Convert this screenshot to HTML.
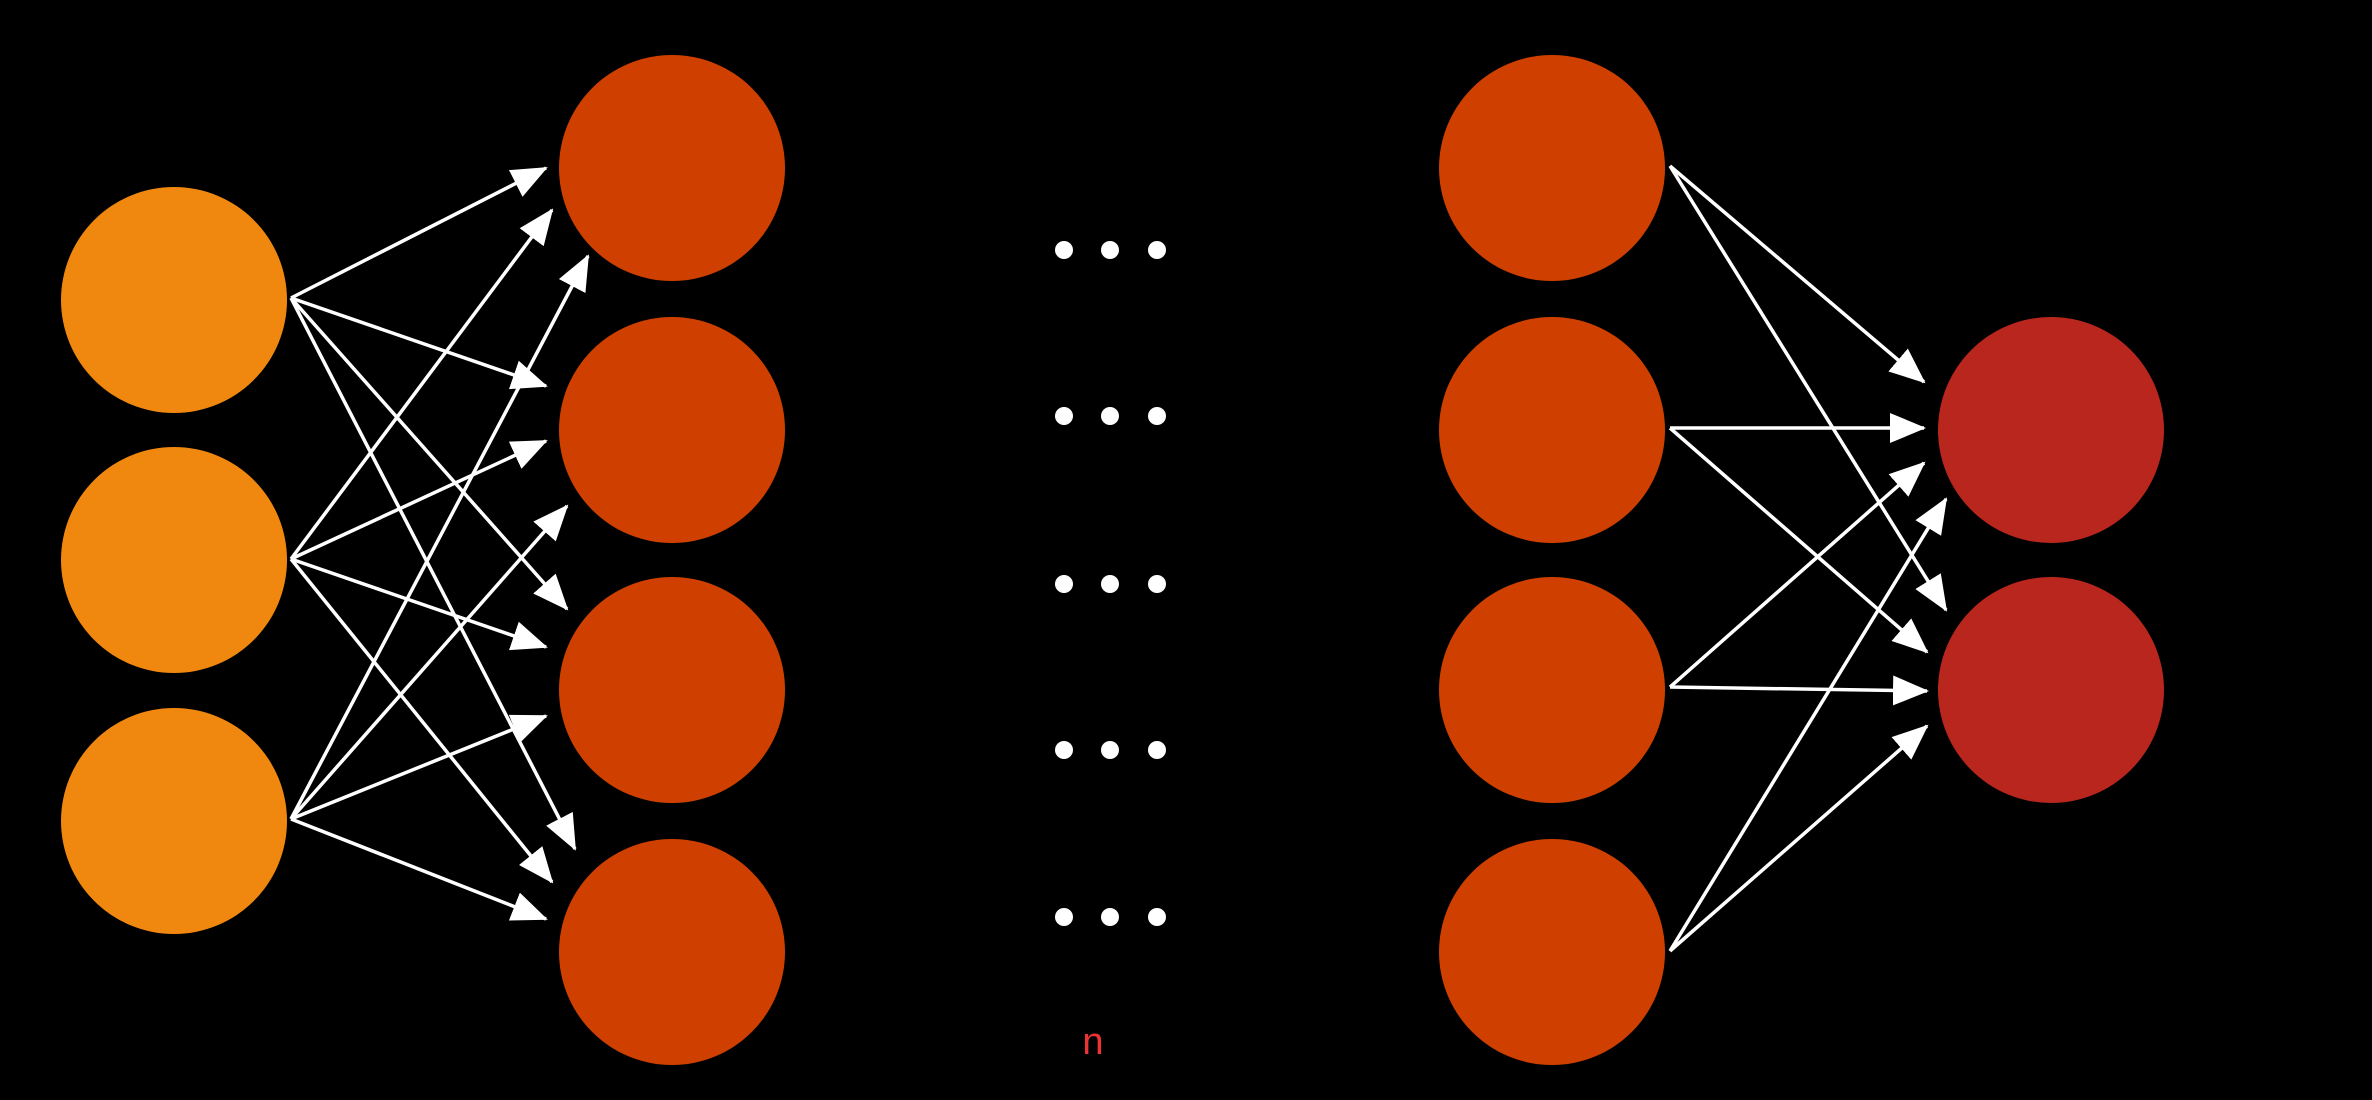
<!DOCTYPE html>
<html><head><style>html,body{margin:0;padding:0;background:#000;}svg{display:block;}</style></head>
<body>
<svg width="2372" height="1100" viewBox="0 0 2372 1100" xmlns="http://www.w3.org/2000/svg">
<defs>
<marker id="a" markerUnits="userSpaceOnUse" markerWidth="36" markerHeight="30" refX="34" refY="15" orient="auto">
<path d="M0,0 L36,15 L0,30 Z" fill="#fff"/>
</marker>
</defs>
<rect width="2372" height="1100" fill="#000"/>
<g fill="#f0880f">
<circle cx="174" cy="300" r="113"/><circle cx="174" cy="560" r="113"/><circle cx="174" cy="821" r="113"/>
</g>
<g fill="#cf4000">
<circle cx="672" cy="168" r="113"/><circle cx="672" cy="430" r="113"/><circle cx="672" cy="690" r="113"/><circle cx="672" cy="952" r="113"/>
<circle cx="1552" cy="168" r="113"/><circle cx="1552" cy="430" r="113"/><circle cx="1552" cy="690" r="113"/><circle cx="1552" cy="952" r="113"/>
</g>
<g fill="#b9261e">
<circle cx="2051" cy="430" r="113"/><circle cx="2051" cy="690" r="113"/>
</g>
<g stroke="#fff" stroke-width="3.5" marker-end="url(#a)">
<line x1="291" y1="298" x2="546" y2="168"/>
<line x1="291" y1="298" x2="546" y2="386"/>
<line x1="291" y1="298" x2="567" y2="609"/>
<line x1="291" y1="298" x2="575" y2="849"/>
<line x1="291" y1="559" x2="552" y2="210"/>
<line x1="291" y1="559" x2="546" y2="441"/>
<line x1="291" y1="559" x2="546" y2="647"/>
<line x1="291" y1="559" x2="552" y2="882"/>
<line x1="291" y1="819" x2="588" y2="256"/>
<line x1="291" y1="819" x2="567" y2="506"/>
<line x1="291" y1="819" x2="546" y2="716"/>
<line x1="291" y1="819" x2="546" y2="919"/>
<line x1="1670" y1="166" x2="1924" y2="382"/>
<line x1="1670" y1="166" x2="1946" y2="610"/>
<line x1="1670" y1="428" x2="1924" y2="428"/>
<line x1="1670" y1="428" x2="1927" y2="652"/>
<line x1="1670" y1="687" x2="1924" y2="463"/>
<line x1="1670" y1="687" x2="1927" y2="691"/>
<line x1="1670" y1="951" x2="1946" y2="499"/>
<line x1="1670" y1="951" x2="1927" y2="726"/>
</g>
<g fill="#fff">
<circle cx="1064" cy="250" r="9"/><circle cx="1110" cy="250" r="9"/><circle cx="1157" cy="250" r="9"/>
<circle cx="1064" cy="416" r="9"/><circle cx="1110" cy="416" r="9"/><circle cx="1157" cy="416" r="9"/>
<circle cx="1064" cy="584" r="9"/><circle cx="1110" cy="584" r="9"/><circle cx="1157" cy="584" r="9"/>
<circle cx="1064" cy="750" r="9"/><circle cx="1110" cy="750" r="9"/><circle cx="1157" cy="750" r="9"/>
<circle cx="1064" cy="917" r="9"/><circle cx="1110" cy="917" r="9"/><circle cx="1157" cy="917" r="9"/>
</g>
<text x="1093" y="1054" fill="#ee3333" font-family="Liberation Sans, sans-serif" font-size="38" text-anchor="middle">n</text>
</svg>
</body></html>
